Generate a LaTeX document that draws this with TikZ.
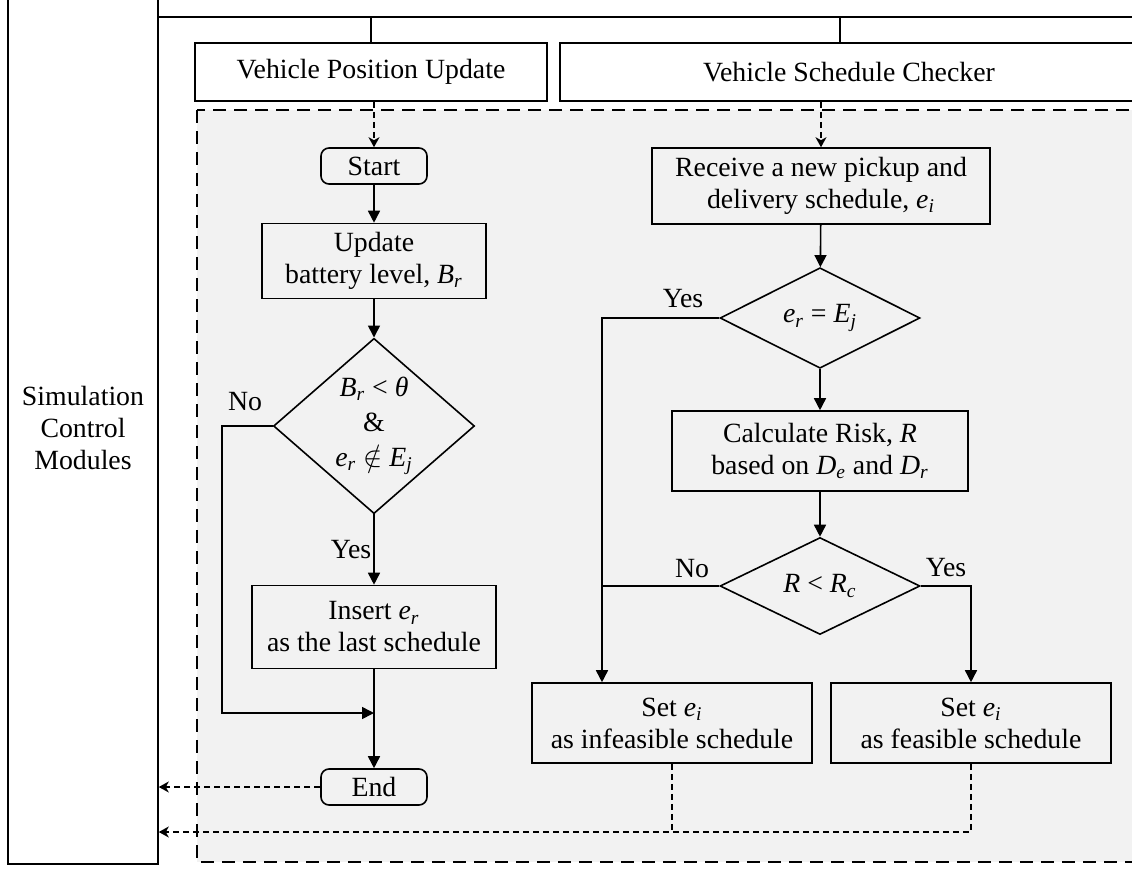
\documentclass[tikz,border=0pt]{standalone}
\usepackage{fontspec}
\setmainfont{Liberation Serif}
\usetikzlibrary{shapes.geometric,arrows.meta}
\definecolor{panelgray}{HTML}{F2F2F2}
\newcommand{\iv}[2]{\textit{#1}\textsubscript{\textit{#2}}}
\tikzset{
  box/.style={draw, line width=0.8pt, align=center, inner sep=1pt},
  term/.style={box, rounded corners=4pt, minimum width=53pt, minimum height=18pt},
  dec/.style={draw, line width=0.8pt, diamond, align=center, inner sep=0pt,
    minimum width=100pt, minimum height=48.5pt},
  line/.style={line width=0.8pt},
  arr/.style={line, -{Triangle[length=6pt,width=6pt]}},
  sig/.style={line width=0.7pt, densely dashed},
  sigarr/.style={sig, -{Stealth[length=5pt,width=5.5pt,inset=1.5pt]}},
  region/.style={fill=panelgray, line width=0.8pt, dash pattern=on 6.5pt off 4pt},
  lbl/.style={inner sep=1pt}
}
\begin{document}
\begin{tikzpicture}[x=0.5pt,y=-0.5pt,font=\fontsize{13.9}{16}\selectfont]
\clip (0,0) rectangle (1132,869);
\draw[region] (197,110) rectangle (1150,862);
\node[box, minimum width=75pt, minimum height=436pt] (simctrl) at (83,428) {Simulation\\Control\\Modules};
\node[box, fill=white, minimum width=176pt, minimum height=29pt] (vpu) at (371,72) {Vehicle Position Update};
\node[box, fill=white, minimum width=289pt, minimum height=29pt] (vsc) at (849,72) {Vehicle Schedule Checker};
\coordinate (busend) at (1150,17);
\draw[line] (simctrl.east |- busend) -- (busend);
\draw[line] (vpu.north) -- (vpu.north |- busend);
\draw[line] ([xshift=-4.5pt]vsc.north) -- ([xshift=-4.5pt]vsc.north |- busend);
% vehicle position update
\node[term] (start) at (374,166) {Start};
\node[box, minimum width=112pt, minimum height=37.5pt] (update) at (374,261) {Update\\battery level, \iv{B}{r}};
\node[dec, minimum width=100.5pt, minimum height=77.5pt, font=\fontsize{13.9}{17.5}\selectfont] (dec1) at (374,426) {\iv{B}{r} < \textit{θ}\\\&\\\iv{e}{r} $\notin$ \iv{E}{j}};
\node[box, minimum width=122pt, minimum height=41.5pt] (insert) at (374,627) {Insert \iv{e}{r}\\as the last schedule};
\node[term] (fin) at (374,787) {End};
\coordinate (nobend) at (222,713);
\coordinate (nomerge) at (374,713);
\draw[sigarr] (vpu.south -| start) -- (start.north);
\draw[arr] (start) -- (update);
\draw[arr] (update) -- (dec1);
\draw[arr] (dec1) -- node[lbl, left, pos=0.5] {Yes} (insert);
\draw[arr] (insert) -- (fin);
\draw[arr] (dec1.west) -| (nobend) -- (nomerge);
\node[lbl] at (245,402) {No};
\draw[sigarr] (fin.west) -- (fin.west -| simctrl.east);
% vehicle schedule checker
\node[box, minimum width=169pt, minimum height=38pt] (receive) at (821,186) {Receive a new pickup and\\delivery schedule, \iv{e}{i}};
\node[dec] (dec2) at (820,318) {\iv{e}{r} = \iv{E}{j}};
\node[box, minimum width=148pt, minimum height=40pt] (risk) at (820,451) {Calculate Risk, \textit{R}\\based on \iv{D}{e} and \iv{D}{r}};
\node[dec] (dec3) at (820,586) {\textit{R} < \iv{R}{c}};
\node[box, minimum width=140pt, minimum height=40pt] (infeas) at (672,723) {Set \iv{e}{i}\\as infeasible schedule};
\node[box, minimum width=140pt, minimum height=40pt] (feas) at (971,723) {Set \iv{e}{i}\\as feasible schedule};
\coordinate (yesleft) at ([xshift=-35pt]infeas.north);
\coordinate (ret) at (672,832);
\draw[sigarr] (vsc.south -| receive) -- (receive.north);
\draw[arr] (receive) -- (dec2);
\draw[arr] (dec2) -- (risk);
\draw[arr] (risk) -- (dec3);
\draw[arr] (dec2.west) -| (yesleft);
\draw[line] (dec3.west) -- (dec3.west -| yesleft);
\draw[arr] (dec3.east) -| (feas.north);
\node[lbl] at (683,299) {Yes};
\node[lbl] at (692,569) {No};
\node[lbl] at (946,568) {Yes};
\draw[sig] (infeas.south) -- (ret);
\draw[sigarr] (feas.south) |- (ret -| simctrl.east);
\end{tikzpicture}
\end{document}
